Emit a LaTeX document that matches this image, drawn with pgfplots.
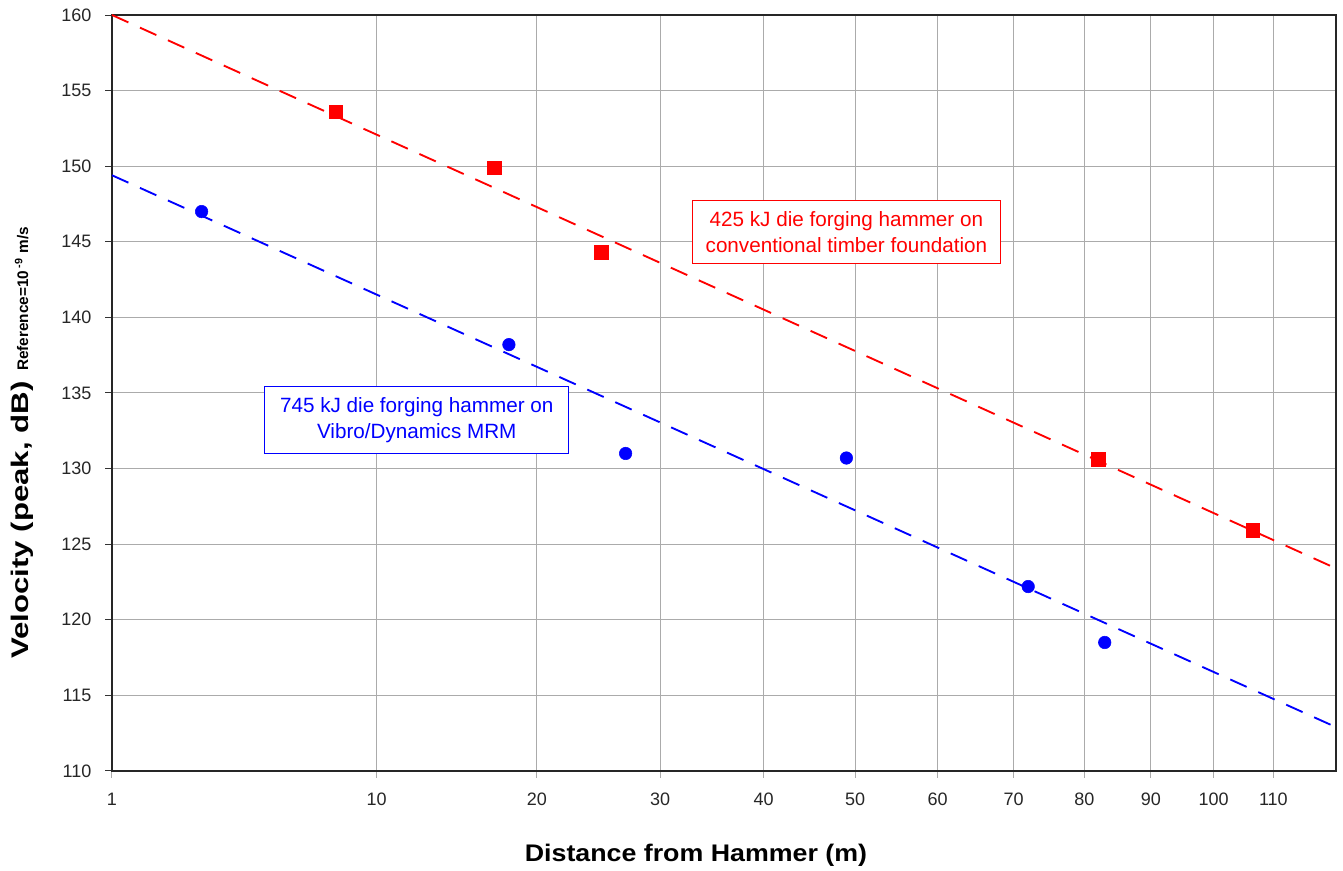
\documentclass[border=0pt]{standalone}
\usepackage{pgfplots}
\pgfplotsset{compat=1.18}
\usepackage{fontspec}
\setmainfont{Liberation Sans}
\begin{document}
\begin{tikzpicture}
\begin{axis}[
  at={(0,0)}, anchor=south west,
  scale only axis,
  width=918pt, height=567pt,
  x coord trafo/.code={\pgfmathparse{sqrt(#1)}},
  x coord inv trafo/.code={\pgfmathparse{(#1)^2}},
  xmin=1, xmax=121,
  ymin=110, ymax=160,
  xtick={1,10,20,30,40,50,60,70,80,90,100,110},
  xticklabels={1,10,20,30,40,50,60,70,80,90,100,110},
  ytick={110,115,...,160},
  grid=major,
  major grid style={color=black!33, line width=0.75pt},
  axis line style={black!85, line width=1.2pt},
  tick align=outside,
  major tick length=5pt,
  xtick style={black!33, line width=0.75pt},
  ytick style={black!80, line width=0.75pt},
  xtick pos=bottom, ytick pos=left,
  ticklabel style={font=\fontsize{13.5}{15}\selectfont, text=black!85},
  /pgf/number format/assume math mode=true,
  yticklabel style={xshift=-7pt},
  xticklabel style={yshift=-8pt},
  clip=false,
]
% red trendline
\addplot[red, line width=1.4pt, dash pattern=on 13.5pt off 9.5pt] coordinates {(1,160) (121,123.4)};
% blue trendline
\addplot[blue, line width=1.4pt, dash pattern=on 13.5pt off 9.5pt] coordinates {(1,149.4) (121,112.9)};
% red data
\addplot[only marks, mark=square*, mark size=5.2pt, red] coordinates {
 (8,153.6) (17,149.9) (25,144.3) (82,130.6) (106.5,125.9)};
% blue data
\addplot[only marks, mark=*, mark size=4.7pt, blue] coordinates {
 (3,147.0) (18,138.2) (27,131.0) (49,130.7) (72,122.2) (83,118.5)};
\node[draw=red, fill=white, text=red, line width=0.75pt, align=center, inner xsep=10pt, inner ysep=8pt,
  font=\fontsize{15.5}{20}\selectfont] at (rel axis cs:0.600,0.713)
  {425 kJ die forging hammer on\\conventional timber foundation};
\node[draw=blue, fill=white, text=blue, line width=0.75pt, align=center, inner xsep=11.5pt, inner ysep=8pt,
  font=\fontsize{15.5}{20}\selectfont] at (rel axis cs:0.249,0.464)
  {745 kJ die forging hammer on\\Vibro/Dynamics MRM};
\end{axis}
\node[font=\bfseries\fontsize{18}{20}\selectfont] at (438pt,-63pt) {\scalebox{1.116}[1]{Distance from Hammer (m)}};
\node[rotate=90, anchor=center] at (-67.5pt,246pt)
  {{\bfseries\fontsize{18}{20}\selectfont\scalebox{1.3}[1]{Velocity (peak, dB)}}\hspace{8pt}{\bfseries\fontsize{11.5}{12}\selectfont Reference=10\,\textsuperscript{-9} m/s}};
\useasboundingbox (-84pt,-75pt) rectangle (923.25pt,578.25pt);
\end{tikzpicture}
\end{document}
